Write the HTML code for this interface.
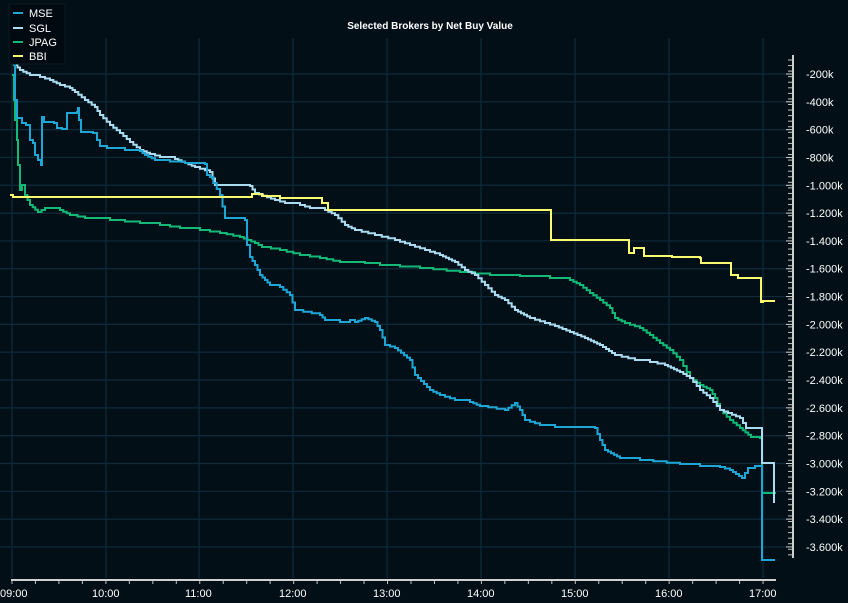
<!DOCTYPE html>
<html><head><meta charset="utf-8"><style>
html,body{margin:0;padding:0;background:#020f17;}
svg{display:block;font-family:"Liberation Sans",sans-serif;}
</style></head><body>
<svg id="c" width="848" height="603" viewBox="0 0 848 603" xmlns="http://www.w3.org/2000/svg">
<rect width="848" height="603" fill="#020f17"/>
<g id="grid" stroke="#0f2b3a" stroke-width="1.2"></g>
<g id="axes"></g>
<g id="series" fill="none" stroke-width="2"></g>
<text x="430" y="29" fill="#ffffff" font-size="10" font-weight="bold" text-anchor="middle">Selected Brokers by Net Buy Value</text>
<rect x="9" y="4" width="56" height="60" fill="#010a10" stroke="#0a1a22"/>
<g font-size="11" fill="#ffffff">
<line x1="13" y1="13" x2="23" y2="13" stroke="#1ea7d6" stroke-width="2"/><text x="29" y="17">MSE</text>
<line x1="13" y1="28" x2="23" y2="28" stroke="#a9dcf0" stroke-width="2"/><text x="29" y="32">SGL</text>
<line x1="13" y1="42" x2="23" y2="42" stroke="#14b877" stroke-width="2"/><text x="29" y="46">JPAG</text>
<line x1="13" y1="56" x2="23" y2="56" stroke="#fafa6e" stroke-width="2"/><text x="29" y="60">BBI</text>
</g>
</svg>
<script>
const NS="http://www.w3.org/2000/svg";
function el(p,t,a,txt){const e=document.createElementNS(NS,t);for(const k in a)e.setAttribute(k,a[k]);if(txt)e.textContent=txt;p.appendChild(e);return e;}
const g=document.getElementById('grid'),ax=document.getElementById('axes'),s=document.getElementById('series');
const xs=[12,106,199,293,387,481,575,669,763];
xs.forEach(x=>el(g,'line',{x1:x,y1:38,x2:x,y2:578}));
const labels=["-200k","-400k","-600k","-800k","-1.000k","-1.200k","-1.400k","-1.600k","-1.800k","-2.000k","-2.200k","-2.400k","-2.600k","-2.800k","-3.000k","-3.200k","-3.400k","-3.600k"];
labels.forEach((l,i)=>{const y=74+i*27.82;el(g,'line',{x1:0,y1:y,x2:790,y2:y});
 el(ax,'text',{x:806,y:y+4,fill:'#fff','font-size':'11'},l);});
el(ax,'line',{x1:793,y1:55,x2:793,y2:558,stroke:'#d0d0d0','stroke-width':2});
for(let y=60;y<558;y+=5.56){el(ax,'line',{x1:788,y1:y,x2:792,y2:y,stroke:'#c0c0c0','stroke-width':1});}
labels.forEach((l,i)=>{const y=74+i*27.82;el(ax,'line',{x1:786,y1:y,x2:792,y2:y,stroke:'#d0d0d0'});});
el(ax,'line',{x1:11,y1:580,x2:776,y2:580,stroke:'#d0d0d0','stroke-width':2});
for(let x=12;x<776;x+=23.47){el(ax,'line',{x1:x,y1:581,x2:x,y2:584,stroke:'#c0c0c0'});}
["09:00","10:00","11:00","12:00","13:00","14:00","15:00","16:00","17:00"].forEach((l,i)=>{
 el(ax,'text',{x:i==0?0:xs[i]-14,y:597,fill:'#fff','font-size':'11'},l);});
function step(p){
 const q=[p[0]];
 for(let i=1;i<p.length;i++){const a=p[i-1],b=p[i];const dx=b[0]-a[0],dy=b[1]-a[1];
  const n=(Math.abs(dy)>2&&dx>4)?Math.max(1,Math.min(Math.round(dx/3),Math.round(Math.abs(dy)/1.5))):1;
  for(let k=1;k<=n;k++)q.push([a[0]+dx*k/n,a[1]+dy*k/n]);}
 let d="M"+q[0][0]+","+q[0][1];
 for(let i=1;i<q.length;i++){d+=" L"+q[i][0].toFixed(1)+","+q[i-1][1].toFixed(1)+" L"+q[i][0].toFixed(1)+","+q[i][1].toFixed(1);}return d;}
const MSE=[[13,65],[15,100],[17,118],[20,118],[22,123],[26,125],[30,140],[33,143],[35,155],[38,160],[41,165],[42,117],[44,122],[54,123],[57,128],[62,129],[66,129],[67,113],[77,112],[78,108],[79,120],[81,132],[93,133],[97,140],[100,146],[107,148],[125,150],[140,151],[145,155],[155,160],[185,163],[205,164],[207,175],[210,177],[220,195],[225,218],[245,220],[247,245],[250,257],[255,265],[260,275],[265,280],[270,285],[280,287],[290,295],[295,310],[320,315],[325,320],[340,322],[350,320],[355,322],[365,318],[375,322],[380,330],[385,345],[395,348],[410,360],[415,375],[430,390],[440,395],[455,400],[470,402],[480,406],[505,410],[515,403],[520,410],[525,420],[540,425],[555,427],[595,428],[600,440],[605,450],[620,458],[640,460],[680,464],[700,466],[720,467],[730,470],[742,478],[748,468],[755,466],[760,466],[762,560],[775,560]];
const SGL=[[12,60],[15,65],[20,70],[30,75],[40,77],[50,80],[60,85],[70,88],[75,92],[85,100],[95,107],[100,115],[110,125],[120,133],[130,142],[140,150],[150,154],[160,157],[175,159],[185,163],[195,167],[210,172],[215,185],[250,186],[255,193],[275,200],[285,203],[300,205],[310,208],[325,210],[335,215],[345,225],[355,230],[375,235],[395,240],[410,245],[425,250],[440,255],[455,262],[465,270],[475,275],[485,285],[495,295],[505,300],[515,310],[530,318],[545,323],[555,326],[570,332],[585,338],[600,345],[615,355],[635,360],[650,362],[665,365],[680,372],[690,378],[700,390],[710,398],[720,410],[728,413],[740,418],[746,428],[760,428],[762,463],[774,463],[774,503]];
const JPAG=[[12,75],[14,100],[15,120],[17,140],[18,165],[20,190],[22,185],[25,195],[30,205],[38,212],[45,208],[60,210],[70,215],[85,218],[110,220],[140,223],[160,225],[180,228],[200,230],[220,233],[240,237],[255,243],[262,247],[280,250],[300,255],[320,258],[340,262],[365,263],[380,265],[420,268],[460,272],[490,275],[520,276],[550,278],[570,280],[580,285],[590,293],[600,300],[610,308],[615,318],[625,323],[640,328],[650,335],[660,343],[670,350],[680,360],[690,378],[700,385],[710,390],[715,398],[720,410],[730,420],[740,428],[751,437],[760,438],[762,493],[775,494]];
const BBI=[[10,195],[13,197],[250,197],[252,194],[262,196],[280,198],[315,198],[322,203],[328,210],[550,210],[551,240],[628,240],[629,253],[634,248],[640,248],[644,256],[672,257],[700,258],[701,263],[730,263],[731,275],[737,275],[738,278],[760,278],[761,302],[763,301],[775,301]];
[[JPAG,'#14b877'],[SGL,'#a9dcf0'],[MSE,'#1ea7d6']].forEach(([p,c])=>el(s,'path',{d:step(p),stroke:c}));
let d="M"+BBI[0][0]+","+BBI[0][1];for(let i=1;i<BBI.length;i++){d+=" L"+BBI[i][0]+","+BBI[i-1][1]+" L"+BBI[i][0]+","+BBI[i][1];}
el(s,'path',{d:d,stroke:'#fafa6e'});
</script>
</body></html>
